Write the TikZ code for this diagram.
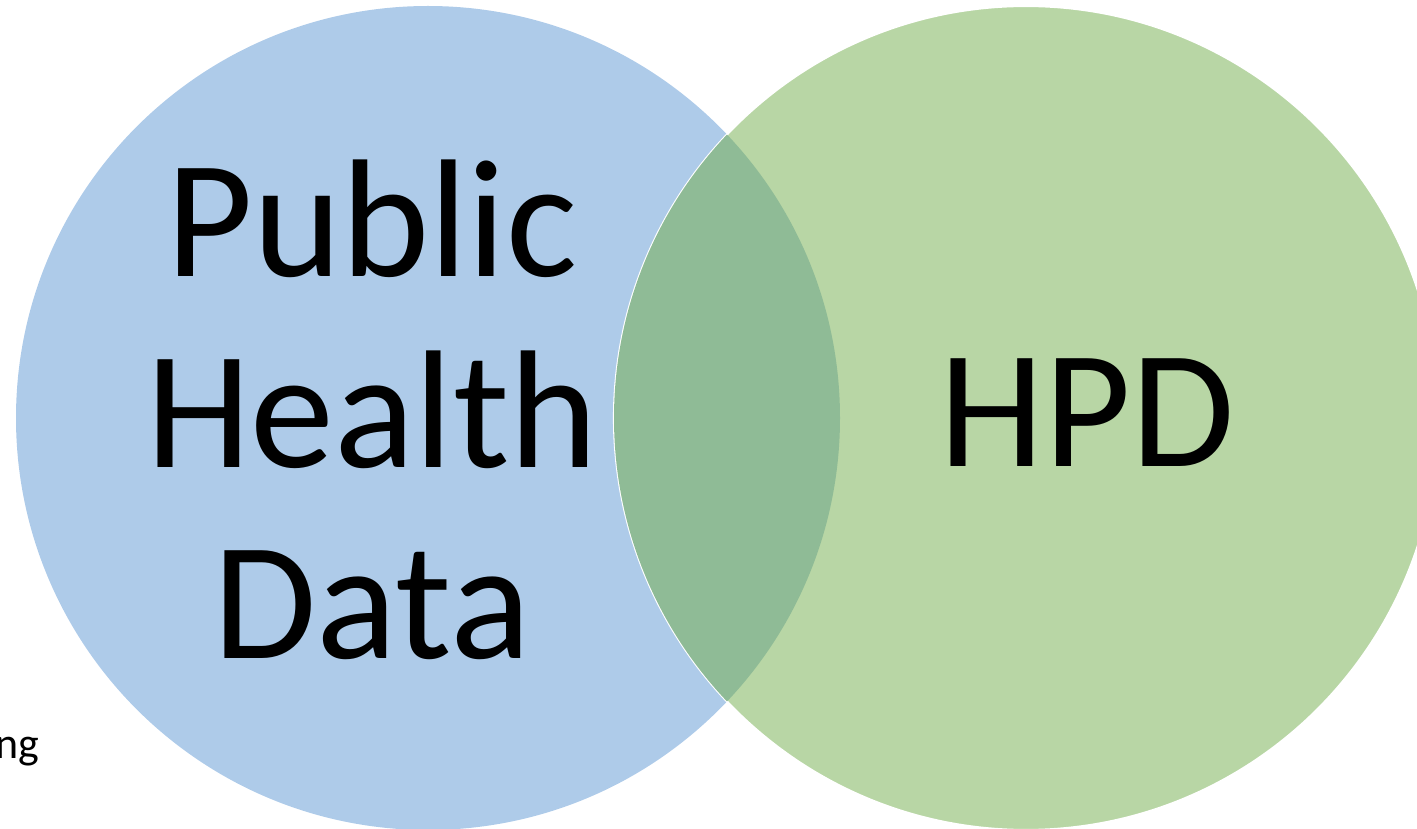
\documentclass[tikz,border=0pt]{standalone}
\usepackage{fontspec}
\setmainfont{Carlito}
\definecolor{setblue}{RGB}{174,203,233}
\definecolor{setgreen}{RGB}{184,214,165}
\definecolor{setboth}{RGB}{143,187,150}
\begin{document}
\begin{tikzpicture}[
    big/.style={inner sep=0pt, align=center, font=\fontsize{47.8}{54.3}\selectfont},
    small/.style={inner sep=0pt, font=\fontsize{12.5}{15}\selectfont},
]
\useasboundingbox (0,0) rectangle (14.17,8.28);
\clip (0,0) rectangle (14.17,8.28);
% the two sets
\fill[setblue] (4.28,4.10) circle (4.12);
\filldraw[fill=setgreen, draw=white, line width=0.6pt] (10.26,4.10) circle (4.12);
\begin{scope}
  \clip (4.28,4.10) circle (4.12);
  \fill[setboth] (10.26,4.10) circle (4.12);
\end{scope}
% labels (base sits on the last line)
\node[big, anchor=base] (phd) at (3.72,1.70) {Public\\Health\\Data};
\node[big, anchor=base] (hpd) at (10.87,3.61) {HPD};
\node[small, anchor=base east] (cut) at (0.40,0.70) {ng};
\end{tikzpicture}
\end{document}
